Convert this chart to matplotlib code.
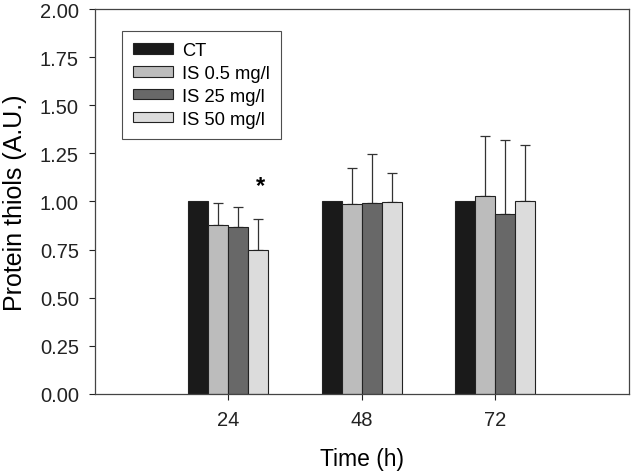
import numpy as np
import matplotlib
matplotlib.use('Agg')
import matplotlib.pyplot as plt

plt.rcParams['font.family'] = ['Liberation Sans', 'DejaVu Sans']

times = [24, 48, 72]
groups = ['CT', 'IS 0.5 mg/l', 'IS 25 mg/l', 'IS 50 mg/l']
colors = ['#1a1a1a', '#bcbcbc', '#686868', '#dcdcdc']
means = [
    [1.00, 1.00, 1.00],
    [0.88, 0.985, 1.03],
    [0.865, 0.99, 0.935],
    [0.75, 0.995, 1.005],
]
errs = [
    [0.0, 0.0, 0.0],
    [0.11, 0.19, 0.31],
    [0.105, 0.255, 0.385],
    [0.16, 0.155, 0.29],
]

fig = plt.figure(figsize=(6.32, 4.77), dpi=100)
ax = fig.add_axes([0.150, 0.172, 0.845, 0.807])

w = 3.6
x = np.array(times, dtype=float)
for i, g in enumerate(groups):
    pos = x + (i - 1.5) * w
    e = np.array(errs[i])
    ax.bar(pos, means[i], width=w, color=colors[i], edgecolor='#222222',
           linewidth=0.8, label=g, zorder=2)
    if e.any():
        ax.errorbar(pos, means[i], yerr=[np.zeros_like(e), e], fmt='none',
                    ecolor='#333333', elinewidth=0.9, capsize=3.5,
                    capthick=0.9, zorder=1)

# significance mark
ax.text(24 + 1.5 * w + 0.3, 1.085, '*', ha='center', va='center',
        fontsize=17, fontweight='bold')

ax.set_xlim(0, 96)
ax.set_ylim(0, 2)
ax.set_xticks(times)
ax.set_xticklabels([str(t) for t in times])
ax.set_yticks(np.arange(0, 2.01, 0.25))
ax.set_yticklabels(['%.2f' % v for v in np.arange(0, 2.01, 0.25)])
ax.tick_params(direction='out', length=4.5, width=0.8, labelsize=14.5,
               colors='#222222', pad=7)
for s in ax.spines.values():
    s.set_linewidth(0.9)
    s.set_color('#444444')

ax.set_xlabel('Time (h)', fontsize=16.5, labelpad=13)
ax.set_ylabel('Protein thiols (A.U.)', fontsize=18, labelpad=9)

leg = ax.legend(loc='upper left', bbox_to_anchor=(0.0506, 0.943), fontsize=13.2,
                frameon=True, fancybox=False, edgecolor='#222222',
                handlelength=2.2, handleheight=0.5, handletextpad=0.5,
                labelspacing=0.32, borderpad=0.6, borderaxespad=0)
leg.get_frame().set_linewidth(0.8)

fig.savefig('out.png', dpi=100)
